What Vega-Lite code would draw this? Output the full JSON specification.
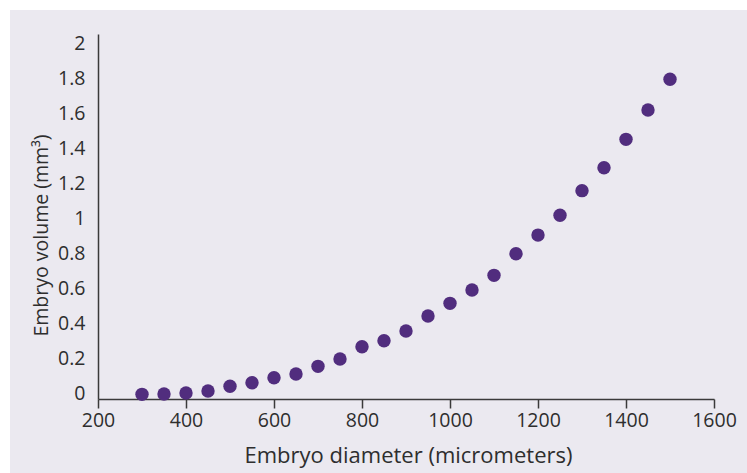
{
  "$schema": "https://vega.github.io/schema/vega-lite/v6.json",
  "width": 737,
  "height": 463,
  "autosize": {"type": "none"},
  "padding": {"left": 10, "top": 10, "right": 0, "bottom": 0},
  "background": "white",
  "config": {
    "view": {"fill": "#ebe9f0", "stroke": null},
    "font": "Open Sans",
    "axis": {
      "grid": false,
      "domainColor": "#3a3a3a",
      "domainWidth": 1.5,
      "tickColor": "#3a3a3a",
      "tickWidth": 1.5,
      "labelColor": "#2e2e2e",
      "titleColor": "#2e2e2e",
      "labelFont": "Open Sans",
      "titleFont": "Open Sans",
      "labelFontSize": 19.5,
      "titleFontSize": 21,
      "titleFontWeight": "normal"
    }
  },
  "data": {
    "values": [
      {"diameter": 300, "volume": -0.006},
      {"diameter": 350, "volume": -0.004},
      {"diameter": 400, "volume": 0.002},
      {"diameter": 450, "volume": 0.013},
      {"diameter": 500, "volume": 0.04},
      {"diameter": 550, "volume": 0.06},
      {"diameter": 600, "volume": 0.089},
      {"diameter": 650, "volume": 0.11},
      {"diameter": 700, "volume": 0.154},
      {"diameter": 750, "volume": 0.196},
      {"diameter": 800, "volume": 0.266},
      {"diameter": 850, "volume": 0.30},
      {"diameter": 900, "volume": 0.356},
      {"diameter": 950, "volume": 0.442},
      {"diameter": 1000, "volume": 0.514},
      {"diameter": 1050, "volume": 0.59},
      {"diameter": 1100, "volume": 0.674},
      {"diameter": 1150, "volume": 0.797},
      {"diameter": 1200, "volume": 0.904},
      {"diameter": 1250, "volume": 1.017},
      {"diameter": 1300, "volume": 1.158},
      {"diameter": 1350, "volume": 1.289},
      {"diameter": 1400, "volume": 1.451},
      {"diameter": 1450, "volume": 1.619},
      {"diameter": 1500, "volume": 1.794}
    ]
  },
  "mark": {"type": "circle", "size": 180, "opacity": 1, "color": "#512d7e"},
  "encoding": {
    "x": {
      "field": "diameter",
      "type": "quantitative",
      "scale": {"domain": [200, 1600], "range": [88, 704], "nice": false, "zero": false},
      "axis": {
        "title": "Embryo diameter (micrometers)",
        "values": [200, 400, 600, 800, 1000, 1200, 1400, 1600],
        "format": "d",
        "offset": -74,
        "tickSize": 9,
        "labelPadding": 3,
        "labelFlush": false,
        "titleFontSize": 22,
        "titleX": 398,
        "titleY": 46
      }
    },
    "y": {
      "field": "volume",
      "type": "quantitative",
      "scale": {"domain": [-0.0326, 2.053], "range": [389, 24], "nice": false, "zero": false},
      "axis": {
        "title": "Embryo volume (mm³)",
        "values": [0, 0.2, 0.4, 0.6, 0.8, 1, 1.2, 1.4, 1.6, 1.8, 2],
        "format": "~g",
        "offset": -88,
        "ticks": false,
        "tickSize": 0,
        "labelPadding": 13,
        "labelFlush": false,
        "titleFontSize": 19.5,
        "titleX": -47,
        "titleY": 225
      }
    }
  }
}
